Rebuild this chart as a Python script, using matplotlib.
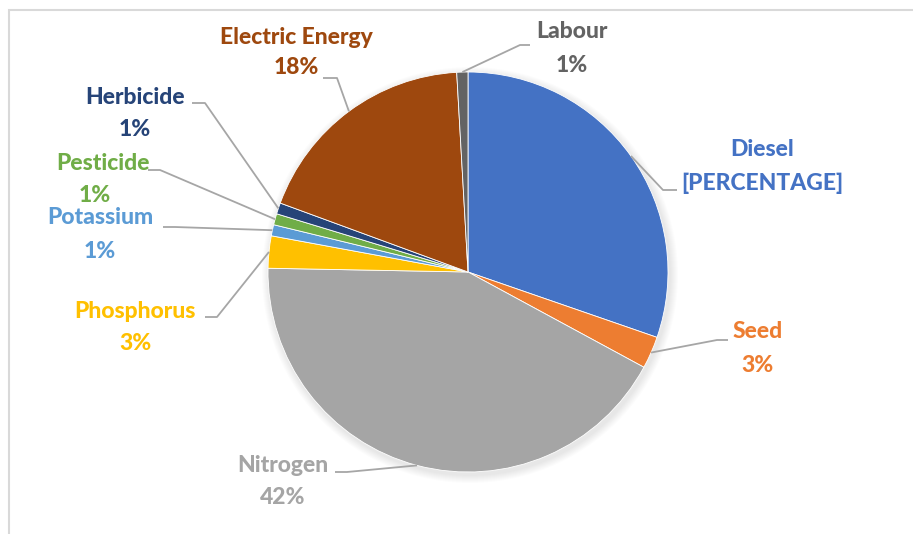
import numpy as np
import matplotlib.pyplot as plt
from matplotlib.patches import Circle, Rectangle

# share of each input (%), clockwise from 12 o'clock
labels = ["Diesel", "Seed", "Nitrogen", "Phosphorus", "Potassium",
          "Pesticide", "Herbicide", "Electric Energy", "Labour"]
values = [30.3, 2.6, 42.4, 2.6, 0.9, 0.9, 0.9, 18.5, 0.9]
pct_text = ["[PERCENTAGE]", "3%", "42%", "3%", "1%", "1%", "1%", "18%", "1%"]
colors = ["#4472C4", "#ED7D31", "#A5A5A5", "#FFC000", "#5B9BD5",
          "#70AD47", "#264478", "#9E480E", "#636363"]

# label layout in image pixels (y down): name centre, percent centre, elbow, end of leader
name_pos = [(762, 150), (758, 332), (283, 466), (135, 311), (100, 218),
            (103, 163), (135, 97), (296, 37), (572, 32)]
pct_pos = [(762, 183), (758, 365), (283, 498), (135, 343), (100, 252),
           (95, 195), (135, 130), (296, 68), (572, 66)]
elbow = [(663, 190), (717, 340), (347, 472), (217, 317), (175, 227),
         (160, 170), (205, 103), (337, 78), (520, 45)]
line_end = [(677, 190), (728, 340), (335, 472), (205, 317), (163, 227),
            (148, 170), (192, 103), (323, 78), (530, 45)]

W, H = 913, 534
fig = plt.figure(figsize=(W / 100, H / 100), dpi=100)
ax = fig.add_axes([0, 0, 1, 1])

def fy(y):
    return H - y

cx, cy, r = 468, fy(272), 200

# soft shadow
for k in range(8):
    ax.add_patch(Circle((cx + 2, cy - 3), r + 1 + k, color="black",
                        alpha=0.012, linewidth=0, zorder=1))

wedges, _ = ax.pie(values, colors=colors, startangle=90, counterclock=False,
                   center=(cx, cy), radius=r, frame=True,
                   wedgeprops=dict(linewidth=0.6, edgecolor="white", zorder=2))
ax.set_xlim(0, W)
ax.set_ylim(0, H)
ax.set_aspect("equal")
ax.axis("off")

# chart frame (cut off on the right and bottom like the screenshot)
ax.add_patch(Rectangle((9, -20), W + 40, fy(10) + 20, fill=False,
                       edgecolor="#D9D9D9", linewidth=1.5))

font = dict(family=["Lato", "DejaVu Sans"], fontweight="black", fontsize=16.5)
for i, w in enumerate(wedges):
    mid = np.deg2rad((w.theta1 + w.theta2) / 2)
    sx = cx + r * np.cos(mid)
    sy = cy + r * np.sin(mid)
    ex, ey = elbow[i]
    lx, ly = line_end[i]
    ax.plot([sx, ex, lx], [sy, fy(ey), fy(ly)], color="#A6A6A6", lw=1.3,
            zorder=3, solid_capstyle="butt")
    ax.text(name_pos[i][0], fy(name_pos[i][1]), labels[i], color=colors[i],
            ha="center", va="center", **font)
    ax.text(pct_pos[i][0], fy(pct_pos[i][1]), pct_text[i], color=colors[i],
            ha="center", va="center", **font)

fig.savefig("out.png", dpi=100)
